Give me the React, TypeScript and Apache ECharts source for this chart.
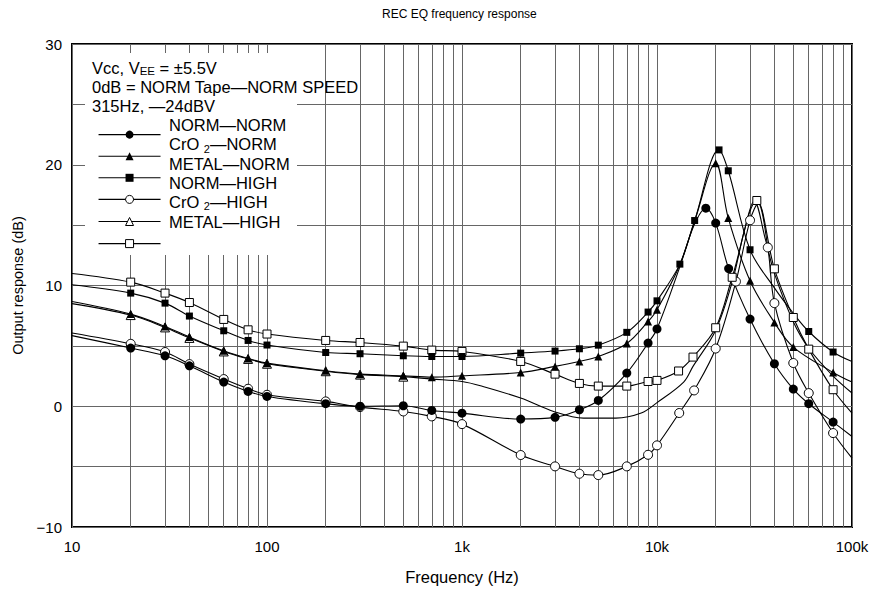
import React, { useEffect, useRef } from 'react';
import * as echarts from 'echarts';

const FONT = '"Liberation Sans", Arial, sans-serif';

const titleText = 'REC EQ frequency response';
const xAxisName = 'Frequency (Hz)';
const yAxisName = 'Output response (dB)';
const noteLines = ['Vcc, V{s|EE} = ±5.5V', '0dB = NORM Tape—NORM SPEED', '315Hz, —24dBV'];
const seriesNames = ['NORM—NORM', 'CrO2—NORM', 'METAL—NORM', 'NORM—HIGH', 'CrO2—HIGH', 'METAL—HIGH'];
const xTickLabels: Record<number, string> = { 10: '10', 100: '100', 1000: '1k', 10000: '10k', 100000: '100k' };
const minorGridFreqs = [
  20, 30, 40, 50, 60, 70, 80, 90,
  200, 300, 400, 500, 600, 700, 800, 900,
  2000, 3000, 4000, 5000, 6000, 7000, 8000, 9000,
  20000, 30000, 40000, 50000, 60000, 70000, 80000, 90000,
];

// NORM—NORM (filled circle)
const normNormMarked: [number, number][] = [
  [20, 4.82], [30, 4.18], [40, 3.35], [60, 2.0], [80, 1.23], [100, 0.81],
  [200, 0.21], [300, 0.0], [500, 0.04], [700, -0.35], [1000, -0.57],
  [2000, -1.06], [3000, -0.92], [4000, -0.29], [5000, 0.48], [7000, 2.75], [9000, 5.23], [10000, 6.4],
  [17800, 16.4], [20000, 15.17], [23300, 11.4], [30000, 7.22], [40000, 3.52], [50000, 1.42],
  [60000, 0.21], [80000, -1.31],
];
const normNormCurve: [number, number][] = [[10, 5.85], [13000, 11.4], [15500, 15.0], [100000, -2.5]];

// CrO2—NORM (filled triangle)
const cro2NormMarked: [number, number][] = [
  [20, 7.63], [30, 6.61], [40, 5.73], [60, 4.59], [80, 3.96], [100, 3.57],
  [200, 2.94], [300, 2.66], [500, 2.52], [700, 2.41], [1000, 2.52],
  [2000, 2.8], [3000, 3.3], [4000, 3.71], [5000, 4.12], [7000, 5.2], [9000, 7.02], [10000, 8.0],
  [20000, 20.13], [23200, 15.58], [30000, 10.39], [40000, 6.94], [50000, 4.9], [80000, 2.8],
];
const cro2NormCurve: [number, number][] = [[10, 8.68], [13000, 11.6], [15500, 15.2], [100000, 2.0]];

// METAL—NORM (filled square)
const metalNormMarked: [number, number][] = [
  [20, 9.37], [30, 8.54], [40, 7.47], [60, 6.25], [80, 5.45], [100, 5.07],
  [200, 4.45], [300, 4.35], [500, 4.18], [700, 4.12], [1000, 4.12],
  [2000, 4.4], [3000, 4.57], [4000, 4.76], [5000, 5.06], [7000, 6.12], [9000, 7.8], [10000, 8.73],
  [13100, 11.77], [15600, 15.38], [20800, 21.23], [23200, 19.5], [30000, 12.96], [60000, 6.19], [80000, 4.49],
];
const metalNormCurve: [number, number][] = [[10, 10.06], [40000, 9.8], [50000, 7.7], [100000, 3.7]];

// NORM—HIGH (open circle)
const normHighMarked: [number, number][] = [
  [20, 5.17], [30, 4.49], [40, 3.49], [60, 2.25], [80, 1.45], [100, 0.95],
  [200, 0.4], [300, -0.07], [500, -0.43], [700, -0.84], [1000, -1.48],
  [2000, -4.04], [3000, -4.98], [4000, -5.59], [5000, -5.7], [7000, -4.98], [9000, -4.02], [10000, -3.24],
  [13000, -0.56], [15500, 1.31], [20000, 4.78], [25400, 10.33], [30000, 15.4], [37000, 13.15],
  [40000, 8.54], [50000, 3.58], [60000, 1.09], [80000, -2.22],
];
const normHighCurve: [number, number][] = [[10, 6.06], [33000, 16.8], [100000, -4.3]];

// CrO2—HIGH (open triangle)
const cro2HighMarked: [number, number][] = [
  [20, 7.55], [30, 6.53], [40, 5.66], [60, 4.54], [80, 3.92], [100, 3.52],
  [200, 2.9], [300, 2.62], [500, 2.45],
];
const cro2HighCurve: [number, number][] = [
  [10, 8.5], [700, 2.25], [1000, 2.05], [1280, 1.64], [2000, 0.68], [2950, -0.43], [4200, -0.98],
  [6150, -0.98], [8300, -0.56], [10000, 0.3], [13700, 2.0], [15300, 3.3], [20000, 6.3], [24500, 10.5],
  [28000, 14.5], [31500, 17.0], [36000, 13.8], [40000, 11.0], [50000, 7.0], [60000, 4.8], [80000, 2.5],
  [100000, 1.1],
];

// METAL—HIGH (open square)
const metalHighMarked: [number, number][] = [
  [20, 10.28], [30, 9.37], [40, 8.59], [60, 7.19], [80, 6.33], [100, 5.98],
  [200, 5.45], [300, 5.28], [500, 4.98], [700, 4.65], [1000, 4.54],
  [2000, 3.71], [3000, 2.66], [4000, 1.89], [5000, 1.67], [7000, 1.67], [9000, 2.05], [10000, 2.14],
  [12900, 2.92], [15300, 4.07], [20000, 6.5], [24300, 10.68], [32500, 17.04], [40000, 11.38],
  [50000, 7.35], [60000, 4.73], [80000, 1.37],
];
const metalHighCurve: [number, number][] = [[10, 11.0], [100000, -0.56]];

function buildData(marked: [number, number][], curve: [number, number][]) {
  const pts = [
    ...marked.map((p) => ({ p, m: true })),
    ...curve.map((p) => ({ p, m: false })),
  ];
  pts.sort((a, b) => a.p[0] - b.p[0]);
  return pts.map((o) => (o.m ? { value: o.p } : { value: o.p, symbol: 'none' }));
}

const FILLED = { color: '#000', borderColor: '#000', borderWidth: 0 };
const OPEN = { color: '#fff', borderColor: '#000', borderWidth: 1 };

const seriesDefs = [
  { name: seriesNames[4], marked: cro2HighMarked, curve: cro2HighCurve, symbol: 'triangle', size: 9, style: OPEN },
  { name: seriesNames[3], marked: normHighMarked, curve: normHighCurve, symbol: 'circle', size: 9, style: OPEN },
  { name: seriesNames[5], marked: metalHighMarked, curve: metalHighCurve, symbol: 'rect', size: 8, style: OPEN },
  { name: seriesNames[0], marked: normNormMarked, curve: normNormCurve, symbol: 'circle', size: 9, style: FILLED },
  { name: seriesNames[1], marked: cro2NormMarked, curve: cro2NormCurve, symbol: 'triangle', size: 8, style: FILLED },
  { name: seriesNames[2], marked: metalNormMarked, curve: metalNormCurve, symbol: 'rect', size: 7, style: FILLED },
];

const legendStyles = [FILLED, FILLED, FILLED, OPEN, OPEN, OPEN];

function richName(name: string) {
  return name.replace('CrO2', 'CrO {sub|2}');
}

export default function App() {
  const ref = useRef<HTMLDivElement>(null);
  useEffect(() => {
    const chart = echarts.init(ref.current!, null, { renderer: 'svg' });
    const series: any[] = seriesDefs.map((d) => ({
      name: d.name,
      type: 'line',
      data: buildData(d.marked, d.curve),
      smooth: 0.35,
      symbol: d.symbol,
      symbolSize: d.size,
      showAllSymbol: true,
      itemStyle: d.style,
      lineStyle: { color: '#000', width: 1.1 },
      emphasis: { disabled: true },
      z: 3,
    }));
    series.push({
      name: 'grid',
      type: 'line',
      data: [],
      silent: true,
      z: 0,
      markLine: {
        silent: true,
        z: 0,
        symbol: ['none', 'none'],
        label: { show: false },
        lineStyle: { color: '#666', width: 1, type: 'solid' },
        emphasis: { disabled: true },
        data: minorGridFreqs.map((f) => ({ xAxis: f })),
      },
    });

    const option: any = {
      animation: false,
      backgroundColor: '#fff',
      title: {
        text: titleText,
        left: 377,
        top: 3,
        textStyle: { fontFamily: FONT, fontSize: 12, fontWeight: 'normal', color: '#000' },
      },
      grid: {
        left: 72,
        right: 34,
        top: 44,
        bottom: 65,
        show: true,
        borderColor: '#000',
        borderWidth: 2,
        backgroundColor: 'transparent',
      },
      legend: [
        {
          orient: 'vertical',
          left: 93,
          top: 124.6,
          itemWidth: 62,
          itemHeight: 10,
          itemGap: 12.6,
          selectedMode: false,
          formatter: () => '',
          textStyle: { fontSize: 1 },
          data: seriesNames.map((n, i) => ({
            name: n,
            itemStyle: legendStyles[i],
            lineStyle: { color: '#000', width: 1.1 },
          })),
        },
        {
          orient: 'vertical',
          left: 159,
          top: 110.4,
          itemWidth: 0,
          itemHeight: 0,
          itemGap: 0,
          selectedMode: false,
          icon: 'rect',
          itemStyle: { color: 'transparent', borderWidth: 0 },
          formatter: (n: string) => richName(n),
          textStyle: {
            fontFamily: FONT,
            fontSize: 16.5,
            color: '#000',
            lineHeight: 19.3,
            rich: {
              sub: { fontFamily: FONT, fontSize: 11, lineHeight: 12, verticalAlign: 'bottom', color: '#000' },
            },
          },
          data: seriesNames.map((n) => ({ name: n })),
        },
      ],
      xAxis: {
        type: 'log',
        logBase: 10,
        min: 10,
        max: 100000,
        axisLine: { show: false },
        axisTick: { show: false },
        splitLine: { show: true, lineStyle: { color: '#666', width: 1 } },
        axisLabel: {
          show: true,
          showMinLabel: true,
          showMaxLabel: true,
          margin: 12,
          fontFamily: FONT,
          fontSize: 15,
          color: '#000',
          formatter: (v: number) => xTickLabels[Math.round(v)] ?? '',
        },
        name: xAxisName,
        nameLocation: 'middle',
        nameGap: 41,
        nameTextStyle: { fontFamily: FONT, fontSize: 16.5, color: '#000' },
      },
      yAxis: {
        type: 'value',
        min: -10,
        max: 30,
        interval: 10,
        axisLine: { show: false },
        axisTick: { show: false },
        minorTick: { show: false, splitNumber: 2 },
        splitLine: { show: true, lineStyle: { color: '#666', width: 1 } },
        minorSplitLine: { show: true, lineStyle: { color: '#666', width: 1 } },
        axisLabel: {
          margin: 10,
          fontFamily: FONT,
          fontSize: 15,
          color: '#000',
          formatter: (v: number) => (v < 0 ? '\u2212' + Math.abs(v) : String(v)),
        },
        name: yAxisName,
        nameLocation: 'middle',
        nameGap: 46,
        nameTextStyle: { fontFamily: FONT, fontSize: 14.5, color: '#000' },
      },
      graphic: [
        {
          type: 'rect',
          z: 1,
          silent: true,
          shape: { x: 85, y: 53, width: 212, height: 202 },
          style: { fill: '#fff' },
        },
        ...noteLines.map((t, i) => ({
          type: 'text',
          z: 10,
          silent: true,
          style: {
            text: t,
            x: 92,
            y: 68 + i * 19,
            verticalAlign: 'middle',
            fontFamily: FONT,
            fontSize: 16.5,
            fill: '#000',
            rich: {
              s: { fontFamily: FONT, fontSize: 11.5, fill: '#000', verticalAlign: 'bottom', lineHeight: 13 },
            },
          },
        })),
      ],
      series,
    };
    chart.setOption(option);
    return () => chart.dispose();
  }, []);
  return (
    <div
      ref={ref}
      style={{ position: 'absolute', left: 0, top: 0, width: 886, height: 592, background: '#fff' }}
    />
  );
}
